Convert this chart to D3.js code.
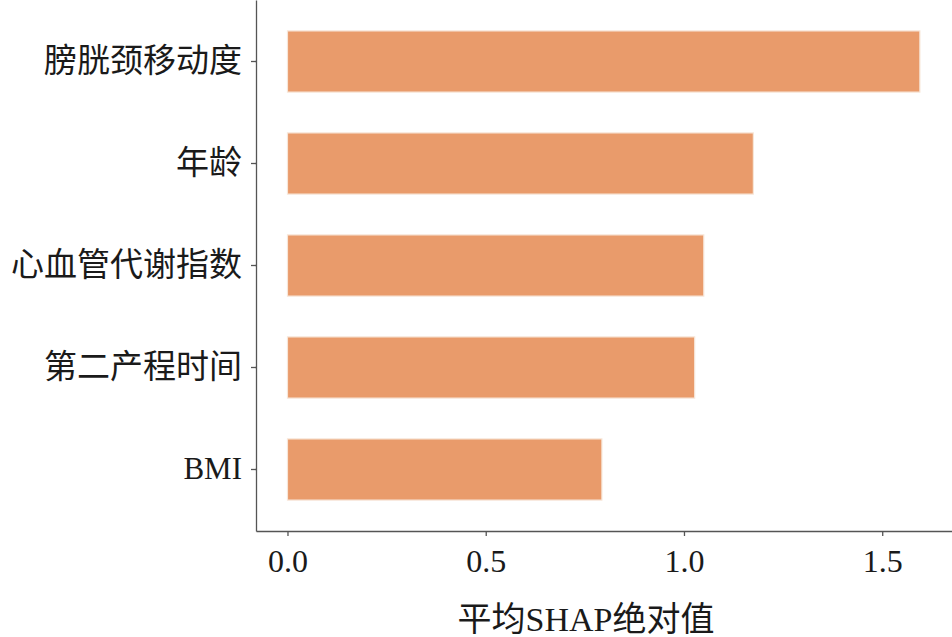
<!DOCTYPE html>
<html>
<head>
<meta charset="utf-8">
<script src="https://cdn.jsdelivr.net/npm/d3@7"></script>
<style>
  html, body { margin: 0; padding: 0; background: #fff; }
  svg { display: block; }
  text { font-family: "Liberation Serif", "Noto Sans CJK SC", serif; fill: #1a1a1a; }
</style>
</head>
<body>
<svg id="chart" width="952" height="637"></svg>
<script>
const features = ["膀胱颈移动度", "年龄", "心血管代谢指数", "第二产程时间", "BMI"];
const shapValues = [1.595, 1.175, 1.05, 1.027, 0.793];
const xTicks = [0.0, 0.5, 1.0, 1.5];
const xLabel = "平均SHAP绝对值";

const W = 952, H = 637;
const margin = { left: 256, right: 0, top: 0, bottom: 106 };
const svg = d3.select("#chart");

const x = d3.scaleLinear()
  .domain([-0.0794, 1.676])
  .range([margin.left, W - margin.right]);

const y = d3.scaleBand()
  .domain(features)
  .range([margin.top, H - margin.bottom])
  .paddingInner(0.4)
  .paddingOuter(0.303);

// bars
svg.append("g").selectAll("rect")
  .data(features.map((f, i) => ({ f, v: shapValues[i] })))
  .join("rect")
  .attr("x", x(0))
  .attr("y", d => y(d.f))
  .attr("width", d => x(d.v) - x(0))
  .attr("height", y.bandwidth())
  .attr("fill", "#E99B6B")
  .attr("stroke", "#f7e6d8")
  .attr("stroke-width", 1.2);

// x axis
const xAxis = svg.append("g")
  .attr("transform", `translate(0,${H - margin.bottom})`)
  .call(d3.axisBottom(x).tickValues(xTicks).tickFormat(d3.format(".1f")).tickSize(5).tickPadding(13).tickSizeOuter(0));
xAxis.select(".domain").attr("stroke", "#555").attr("stroke-width", 1.3);
xAxis.selectAll(".tick line").attr("stroke", "#555").attr("stroke-width", 1.3);
xAxis.selectAll(".tick text").attr("font-size", 32).attr("font-family", "Liberation Serif, Noto Sans CJK SC, serif").attr("fill", "#1a1a1a");

// y axis
const yAxis = svg.append("g")
  .attr("transform", `translate(${margin.left},0)`)
  .call(d3.axisLeft(y).tickSize(5).tickPadding(9).tickSizeOuter(0));
yAxis.select(".domain").attr("stroke", "#555").attr("stroke-width", 1.3);
yAxis.selectAll(".tick line").attr("stroke", "#555").attr("stroke-width", 1.3);
yAxis.selectAll(".tick text")
  .attr("font-size", d => /[\u4e00-\u9fff]/.test(d) ? 33 : 31)
  .attr("font-family", "Liberation Serif, Noto Sans CJK SC, serif")
  .attr("fill", "#1a1a1a");

// x label
svg.append("text")
  .attr("x", 586)
  .attr("y", 631)
  .attr("text-anchor", "middle")
  .attr("font-size", 34)
  .text(xLabel);
</script>
</body>
</html>
